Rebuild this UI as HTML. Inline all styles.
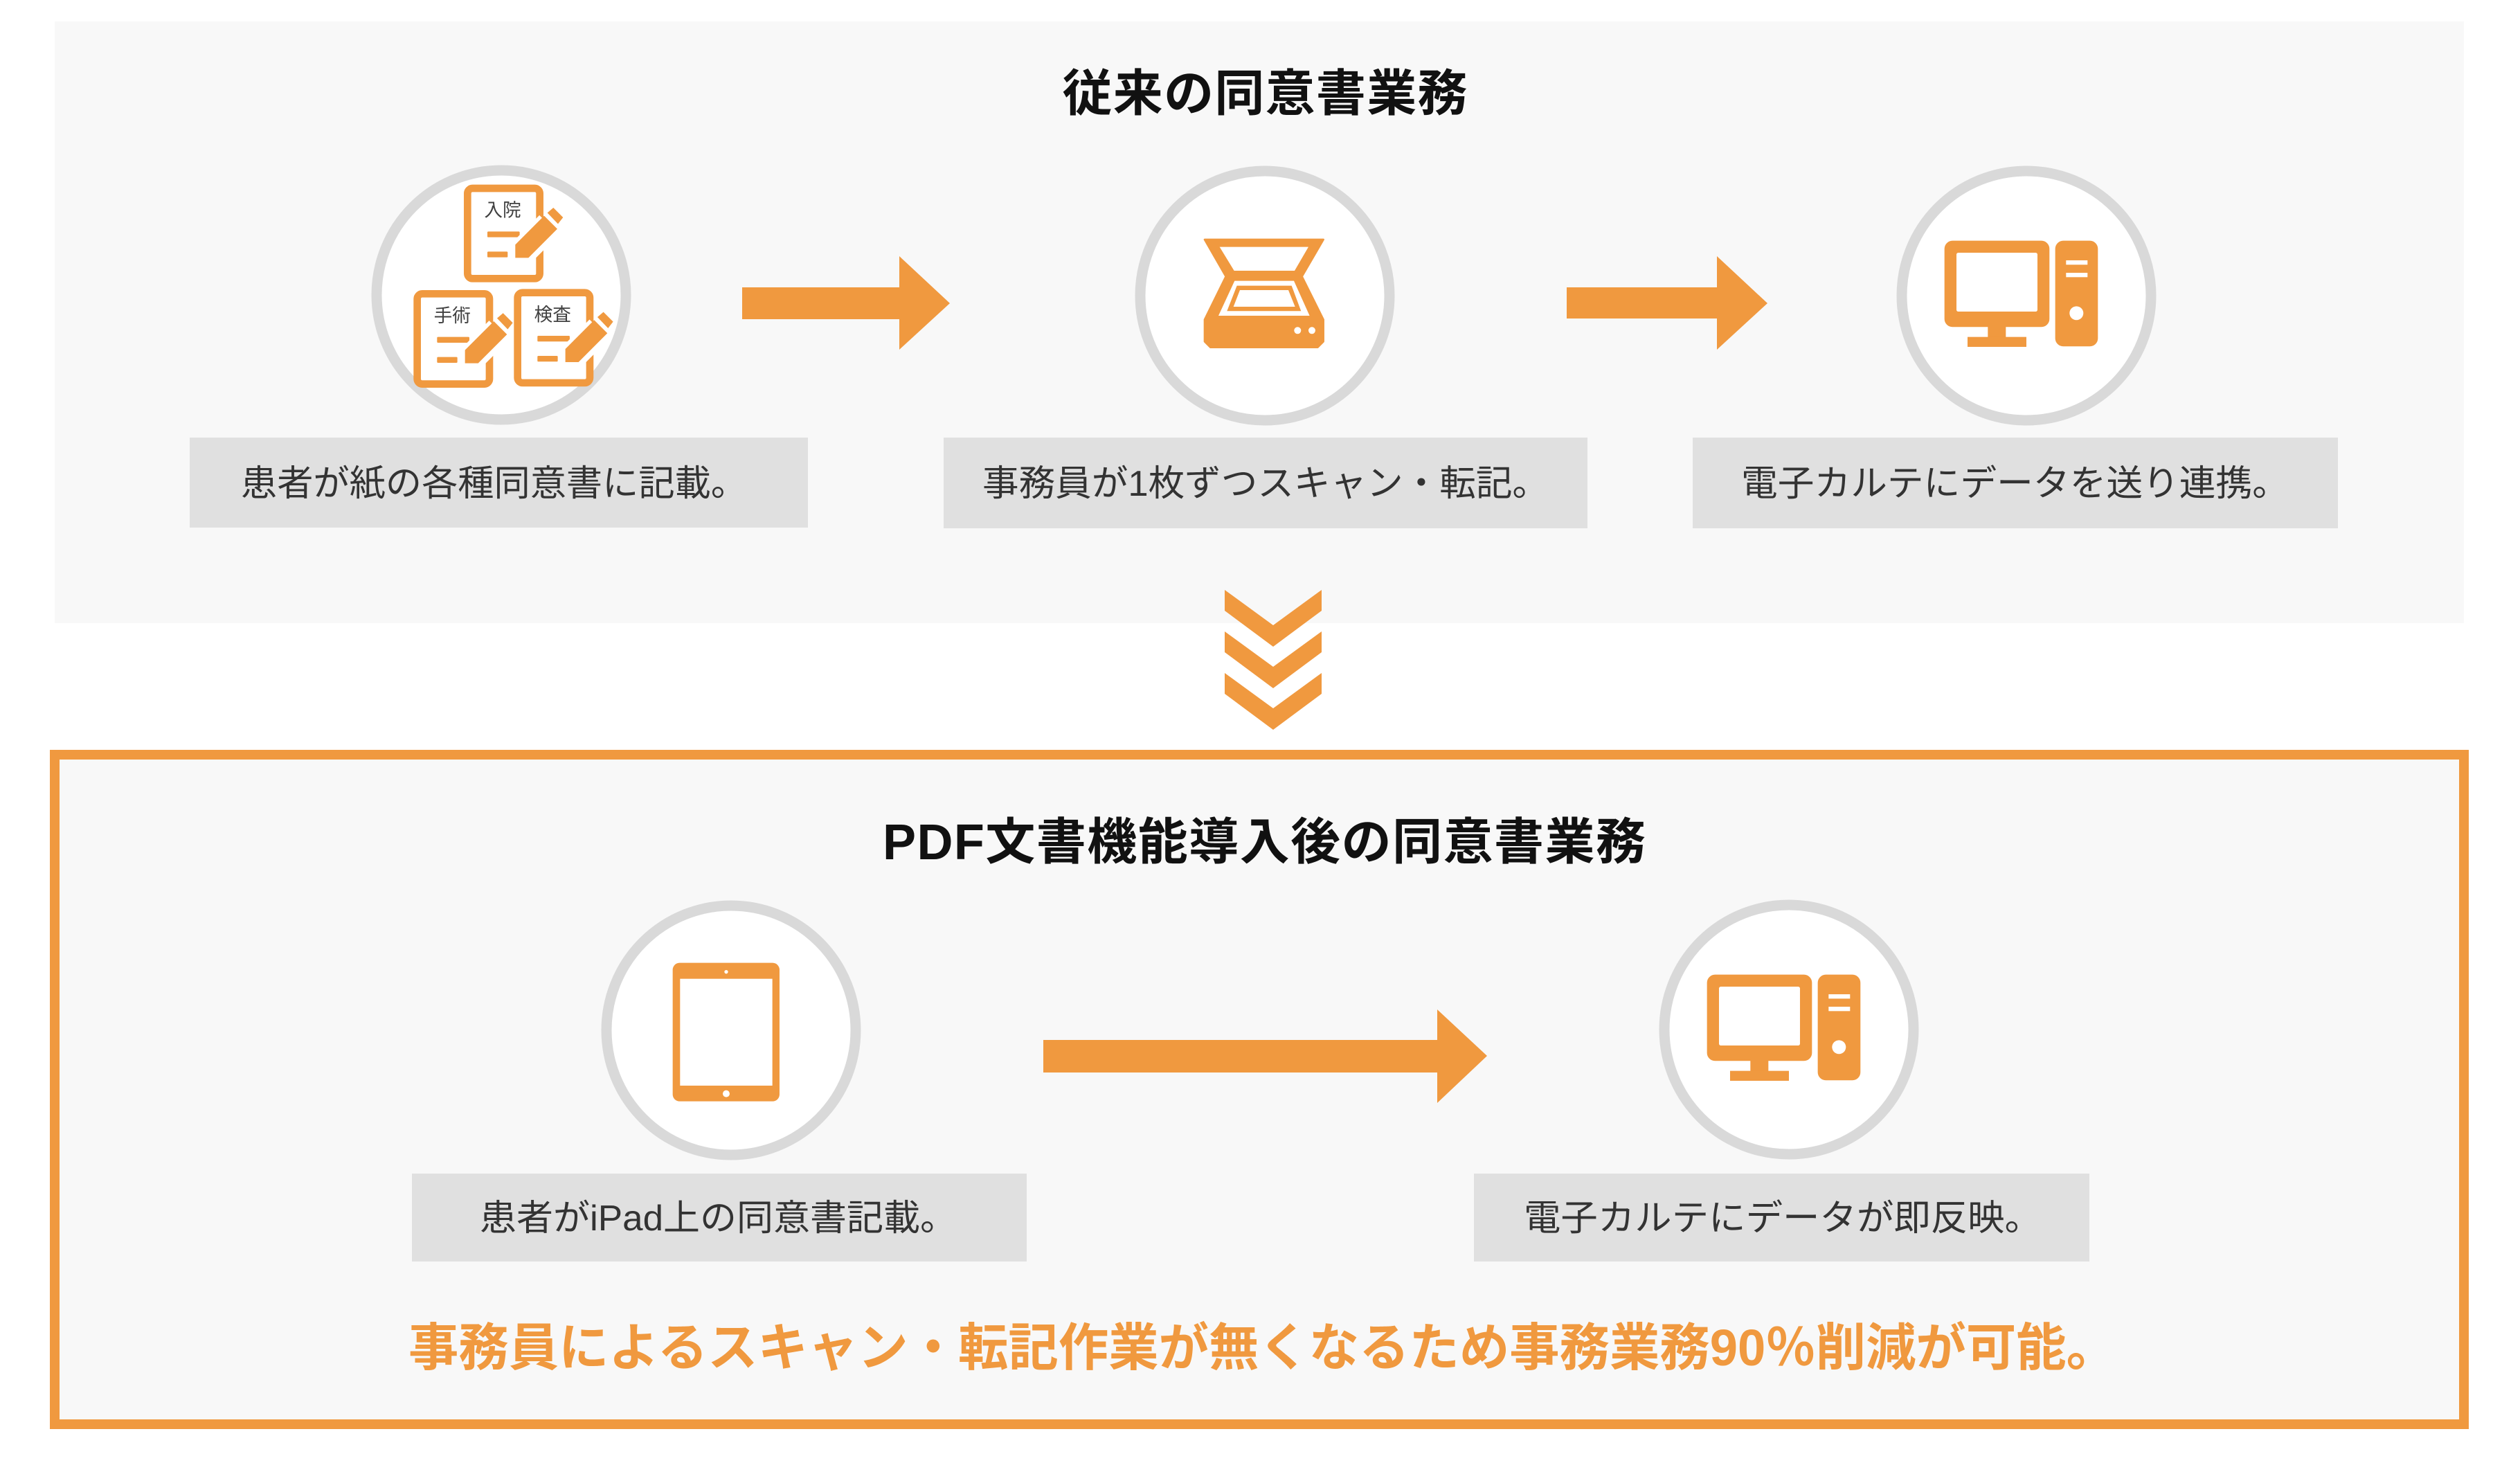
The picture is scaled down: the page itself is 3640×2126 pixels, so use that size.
<!DOCTYPE html>
<html><head><meta charset="utf-8"><style>
html,body{margin:0;padding:0;background:#fff;}
svg{display:block;}
text{font-family:"Liberation Sans","Noto Sans CJK JP",sans-serif;}
</style></head><body>
<svg width="3640" height="2126" viewBox="0 0 3640 2126" xmlns="http://www.w3.org/2000/svg">
<defs>
<g id="doc">
  <rect x="526" y="156" width="313" height="391" rx="22" fill="#fff" stroke="#F0993F" stroke-width="32"/>
  <rect x="612" y="343" width="140" height="25" rx="4" fill="#F0993F"/>
  <rect x="612" y="430" width="88" height="25" rx="4" fill="#F0993F"/>
  <line x1="770" y1="425" x2="880" y2="315" stroke="#fff" stroke-width="120"/>
  <polygon points="733,400 858,275 915,332 790,457 733,457" fill="#F0993F"/>
  <polygon points="872,262 898,240 940,282 918,310" fill="#F0993F"/>
</g>
<g id="pc">
  <rect x="200" y="323" width="455" height="374" rx="35" fill="#F0993F"/>
  <rect x="252" y="375" width="351" height="255" rx="8" fill="#fff"/>
  <rect x="388" y="690" width="78" height="55" fill="#F0993F"/>
  <rect x="300" y="740" width="255" height="43" fill="#F0993F"/>
  <rect x="680" y="323" width="185" height="458" rx="35" fill="#F0993F"/>
  <rect x="727" y="408" width="93" height="19" fill="#fff"/>
  <rect x="727" y="462" width="93" height="19" fill="#fff"/>
  <circle cx="772" cy="637" r="30" fill="#fff"/>
</g>
</defs>

<rect x="79" y="31" width="3480" height="869" fill="#F8F8F8"/>
<text x="1827" y="160" font-size="72" font-weight="bold" text-anchor="middle" fill="#111" textLength="585" lengthAdjust="spacing">従来の同意書業務</text>

<g fill="#fff" stroke="#D9D9D9" stroke-width="15">
  <circle cx="724" cy="426" r="180"/>
  <circle cx="1827" cy="427" r="180"/>
  <circle cx="2927" cy="427" r="180"/>
</g>

<g transform="translate(500,220) scale(0.3333)">
  <use href="#doc"/>
  <text x="598" y="278" font-size="80" fill="#404040">入院</text>
  <g transform="translate(-218,457)"><use href="#doc"/><text x="598" y="278" font-size="80" fill="#404040">手術</text></g>
  <g transform="translate(217,452)"><use href="#doc"/><text x="598" y="278" font-size="80" fill="#404040">検査</text></g>
</g>

<g transform="translate(1640,240) scale(0.3333)">
  <polygon points="300,318 815,318 722,478 815,665 815,760 790,785 325,785 300,760 300,665 392,478" fill="#F0993F" stroke="#F0993F" stroke-width="8" stroke-linejoin="round"/>
  <polygon points="365,350 750,350 690,453 428,453" fill="#fff"/>
  <polygon points="430,497 687,497 755,648 360,648" fill="#fff"/>
  <polygon points="440,518 677,518 718,628 397,628" fill="#F0993F"/>
  <polygon points="453,537 663,537 692,609 425,609" fill="#fff"/>
  <circle cx="703" cy="712" r="15" fill="#fff"/>
  <circle cx="765" cy="712" r="15" fill="#fff"/>
</g>

<g transform="translate(2742,240) scale(0.3333)"><use href="#pc"/></g>

<polygon points="1072,415 1299,415 1299,370 1372,438 1299,505 1299,461 1072,461" fill="#F0993F"/>
<polygon points="2263,415 2480,415 2480,370 2553,438 2480,505 2480,460 2263,460" fill="#F0993F"/>

<rect x="274" y="632" width="893" height="130" fill="#E0E0E0"/>
<rect x="1363" y="632" width="930" height="131" fill="#E0E0E0"/>
<rect x="2445" y="632" width="932" height="131" fill="#E0E0E0"/>
<g font-size="52" fill="#333">
<text x="348" y="716" textLength="731" lengthAdjust="spacingAndGlyphs">患者が紙の各種同意書に記載。</text>
<text x="1419" y="716" textLength="818" lengthAdjust="spacingAndGlyphs">事務員が1枚ずつスキャン・転記。</text>
<text x="2515" y="716" textLength="791" lengthAdjust="spacingAndGlyphs">電子カルテにデータを送り連携。</text>
</g>

<g fill="#F0993F">
  <polygon points="1769,852 1839,903 1909,852 1909,882 1839,934 1769,882"/>
  <polygon points="1769,912 1839,963 1909,912 1909,942 1839,994 1769,942"/>
  <polygon points="1769,972 1839,1023 1909,972 1909,1002 1839,1054 1769,1002"/>
</g>

<rect x="79" y="1090" width="3480" height="967" fill="#F8F8F8" stroke="#F0993F" stroke-width="14"/>
<text x="1826" y="1241" font-size="72" font-weight="bold" text-anchor="middle" fill="#111" textLength="1102" lengthAdjust="spacing">PDF文書機能導入後の同意書業務</text>

<g fill="#fff" stroke="#D9D9D9" stroke-width="15">
  <circle cx="1056" cy="1488" r="180"/>
  <circle cx="2584" cy="1487" r="180"/>
</g>

<g transform="translate(860,1300) scale(0.3333)">
  <rect x="335" y="272" width="463" height="600" rx="30" fill="#F0993F"/>
  <rect x="367" y="341" width="400" height="463" fill="#fff"/>
  <circle cx="567" cy="311" r="8" fill="#fff"/>
  <circle cx="567" cy="839" r="15" fill="#fff"/>
</g>

<g transform="translate(2399,1300) scale(0.3333)"><use href="#pc"/></g>

<polygon points="1507,1502 2076,1502 2076,1458 2148,1525 2076,1593 2076,1549 1507,1549" fill="#F0993F"/>

<rect x="595" y="1695" width="888" height="127" fill="#E0E0E0"/>
<rect x="2129" y="1695" width="889" height="127" fill="#E0E0E0"/>
<g font-size="52" fill="#333">
<text x="693" y="1777" textLength="689" lengthAdjust="spacingAndGlyphs">患者がiPad上の同意書記載。</text>
<text x="2201" y="1777" textLength="748" lengthAdjust="spacingAndGlyphs">電子カルテにデータが即反映。</text>
</g>

<text x="590" y="1972" font-size="74" font-weight="bold" fill="#F0993F" textLength="2467" lengthAdjust="spacingAndGlyphs">事務員によるスキャン・転記作業が無くなるため事務業務90％削減が可能。</text>
</svg>
</body></html>
